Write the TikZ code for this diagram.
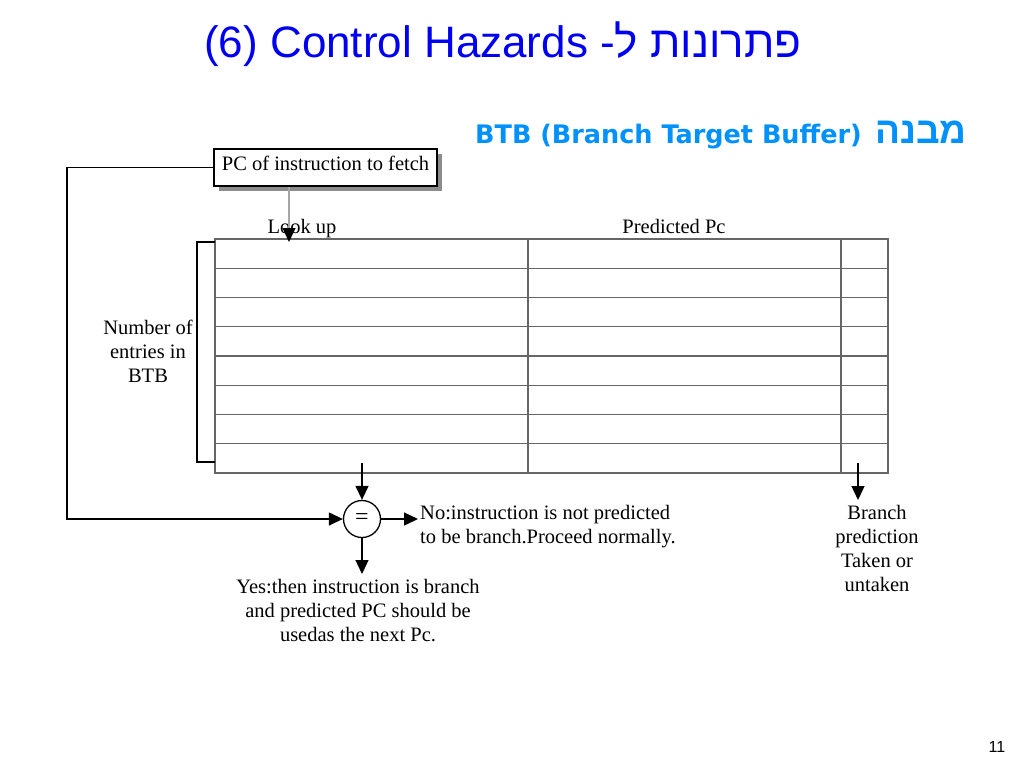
\documentclass[tikz,border=0pt]{standalone}
\usepackage{fontspec}
\setmainfont{Liberation Serif}
\newfontfamily\titlefont{Liberation Sans}
\newfontfamily\hebfont[Script=Hebrew]{Liberation Sans}
\newfontfamily\subfont{DejaVu Sans}
\TeXXeTstate=1
\usetikzlibrary{arrows.meta,shadows}
\definecolor{titleblue}{RGB}{0,0,240}
\definecolor{subblue}{RGB}{0,145,250}
\tikzset{
  diag/.style={font=\fontsize{20.5}{24}\selectfont, inner sep=0pt},
  arr/.style={-{Triangle[length=14pt,width=13pt]}, line width=1.3pt},
  tbl/.style={draw=black!60, line width=1.2pt},
}
\begin{document}
\begin{tikzpicture}[x=1pt,y=-1pt]
\useasboundingbox (0,0) rectangle (1024,768);
% titles
\node[anchor=base, inner sep=0pt, text=titleblue, font=\titlefont\fontsize{44}{50}\selectfont] (title) at (503,58)
  {(6) Control Hazards {\hebfont\beginR פתרונות ל-\endR}};
\node[anchor=base east, inner sep=0pt, text=subblue, font=\subfont\bfseries\fontsize{25.5}{30}\selectfont] (sub) at (862,143)
  {BTB (Branch Target Buffer)};
\node[anchor=base west, inner sep=0pt, text=subblue, font=\hebfont\bfseries\fontsize{37}{40}\selectfont] (subheb) at (875,143)
  {\beginR מבנה\endR};
\node[anchor=base, inner sep=0pt, font=\titlefont\fontsize{16}{18}\selectfont] (pnum) at (997,752) {11};

% PC box
\node[draw=black, line width=1.3pt, fill=white, minimum width=223pt, minimum height=37pt, inner sep=0pt,
  drop shadow={shadow xshift=5pt, shadow yshift=-5pt, fill=black!45, opacity=1},
  font=\fontsize{20.5}{24}\selectfont] (pc) at (325.5,167.5) {};
\node[diag, anchor=base] (pctext) at (325.5,170) {PC of instruction to fetch};

% column headers
\node[diag, anchor=base] (lookup) at (302,233) {Look up};
\node[diag, anchor=base] (predpc) at (674,233) {Predicted Pc};

% table
\node[tbl, minimum width=673pt, minimum height=234pt, inner sep=0pt] (table) at (551.5,356) {};
\foreach \k in {1,...,7}{
  \draw[tbl] (215,239+\k*29.25) -- (888,239+\k*29.25);
}
\draw[tbl] (528,239) -- (528,473);
\draw[tbl] (841,239) -- (841,473);

% bracket
\draw[black, line width=1.3pt] (215,242) -| (197,462) -- (215,462);
\node[diag, anchor=north, align=center] (entries) at (148,320) {Number of\\entries in\\BTB};

% arrow from PC to table
\draw[-{Triangle[length=14pt,width=13pt,black]}, draw=black!35, line width=1.3pt] (pc.south -| 289,0) -- (289,242);

% comparator
\node[draw=black, line width=1.3pt, circle, minimum size=37pt, inner sep=0pt, font=\fontsize{24}{24}\selectfont] (eq) at (362,519) {=};
\coordinate (cin) at (362,463);
\draw[arr] (cin) -- (eq.north);
\draw[arr] (pc.west) -- (67,167.5) |- (eq.west);
\coordinate (noend) at (418,519);
\draw[arr] (eq.east) -- (noend);
\coordinate (yesend) at (362,574);
\draw[arr] (eq.south) -- (yesend);

\node[diag, anchor=north west, align=left] (no) at (420,505) {No:instruction is not predicted\\to be branch.Proceed normally.};
\node[diag, anchor=north, align=center] (yes) at (358,579) {Yes:then instruction is branch\\and predicted PC should be\\usedas the next Pc.};

% branch prediction arrow
\coordinate (bpin) at (858,463);
\coordinate (bpend) at (858,500);
\draw[arr] (bpin) -- (bpend);
\node[diag, anchor=north, align=center] (bp) at (877,505) {Branch\\prediction\\Taken or\\untaken};
\end{tikzpicture}
\end{document}
